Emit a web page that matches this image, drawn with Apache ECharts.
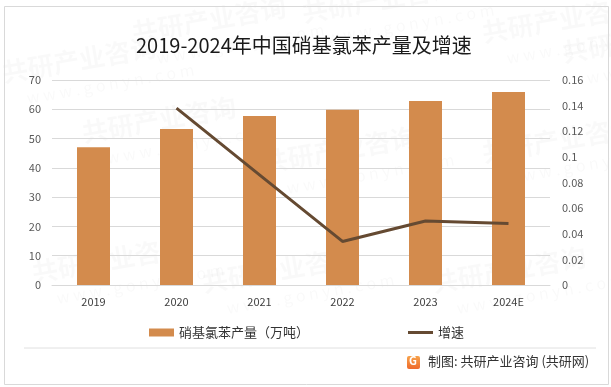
<!DOCTYPE html>
<html>
<head>
<meta charset="utf-8">
<script src="https://cdn.jsdelivr.net/npm/echarts@6/dist/echarts.min.js"></script>
<style>
html,body{margin:0;padding:0;background:#fff;}
#c{width:611px;height:387px;}
</style>
</head>
<body>
<div id="c"></div>
<script>
var categories = ['2019', '2020', '2021', '2022', '2023', '2024E'];
var output = [47, 53.3, 57.7, 59.8, 62.8, 65.9];
var growth = [null, 0.138, 0.086, 0.034, 0.050, 0.048];
var leftTicks = {min: 0, max: 70, interval: 10};
var rightTicks = {min: 0, max: 0.16, interval: 0.02};

var FONT = '"Noto Sans CJK SC", "Noto Sans", sans-serif';
var chart = echarts.init(document.getElementById('c'), null, {renderer: 'canvas'});

var wm = [];
var wmPos = [[130,20],[300,0],[480,20],[80,120],[260,150],[480,140],[30,260],[200,270],[430,270],[560,40],[0,60]];
wmPos.forEach(function(p){
  wm.push({type:'group', x:p[0], y:p[1], rotation: 0.17, z:0, silent:true, children:[
    {type:'text', style:{text:'共研产业咨询', font:'bold 26px ' + FONT, fill:'rgba(0,0,0,0.022)'}},
    {type:'text', x:20, y:34, style:{text:'w w w . g o n y n . c o m', font:'16px ' + FONT, fill:'rgba(0,0,0,0.022)'}}
  ]});
});

var option = {
  backgroundColor: '#fff',
  animation: false,
  title: {
    text: '2019-2024年中国硝基氯苯产量及增速',
    left: 131, top: 30,
    textStyle: {fontFamily: FONT, fontSize: 20, fontWeight: 'normal', color: '#1a1a1a'}
  },
  grid: {left: 52, right: 61, top: 80, bottom: 102, containLabel: false},
  legend: {
    top: 321, left: 144,
    itemGap: 99,
    itemWidth: 25, itemHeight: 8,
    textStyle: {fontFamily: FONT, fontSize: 13, color: '#333'},
    data: [
      {name: '硝基氯苯产量（万吨）', icon: 'rect'},
      {name: '增速', icon: 'path://M0,0 H25 V3 H0 Z', itemStyle: {color: '#654a32'}}
    ]
  },
  xAxis: {
    type: 'category', data: categories,
    axisLine: {show: true, lineStyle: {color: '#d9d9d9'}},
    axisTick: {show: false},
    axisLabel: {fontFamily: FONT, fontSize: 11, color: '#404040', margin: 11}
  },
  yAxis: [
    {type: 'value', min: leftTicks.min, max: leftTicks.max, interval: leftTicks.interval,
     axisLine: {show: false}, axisTick: {show: false},
     axisLabel: {fontFamily: FONT, fontSize: 11, color: '#595959', margin: 11},
     splitLine: {lineStyle: {color: '#d9d9d9', width: 1}}},
    {type: 'value', min: rightTicks.min, max: rightTicks.max, interval: rightTicks.interval,
     axisLine: {show: false}, axisTick: {show: false},
     axisLabel: {fontFamily: FONT, fontSize: 11, color: '#595959', margin: 12,
       formatter: function(v){ return String(+v.toFixed(2)); }},
     splitLine: {show: false}}
  ],
  series: [
    {name: '硝基氯苯产量（万吨）', type: 'bar', data: output, barWidth: 33,
     itemStyle: {color: '#d38b4d'}, z: 2},
    {name: '增速', type: 'line', yAxisIndex: 1, data: growth, symbol: 'none',
     connectNulls: false,
     lineStyle: {color: '#654a32', width: 3}, itemStyle: {color: '#654a32'}, z: 3}
  ],
  graphic: wm.concat([
    {type: 'rect', left: 2, top: 4, shape: {width: 604, height: 378},
     style: {fill: 'none', stroke: '#d9d9d9', lineWidth: 1}, z: 10, silent: true},
    {type: 'line', shape: {x1: 24, y1: 348, x2: 596, y2: 348},
     style: {stroke: '#e0e0e0', lineWidth: 1}, z: 10},
    {type: 'rect', left: 407, top: 356, shape: {width: 13, height: 13, r: 2},
     style: {fill: new echarts.graphic.LinearGradient(0,0,0,1,[{offset:0,color:'#f7a24a'},{offset:1,color:'#ef6a2c'}])}, z: 10},
    {type: 'text', left: 409, top: 355, style: {text: 'G', font: 'bold 11px ' + FONT, fill: '#fff'}, z: 11},
    {type: 'text', left: 428, top: 355, style: {text: '制图: 共研产业咨询 (共研网)', font: '13px ' + FONT, fill: '#333'}, z: 10}
  ])
};
chart.setOption(option);
</script>
</body>
</html>
